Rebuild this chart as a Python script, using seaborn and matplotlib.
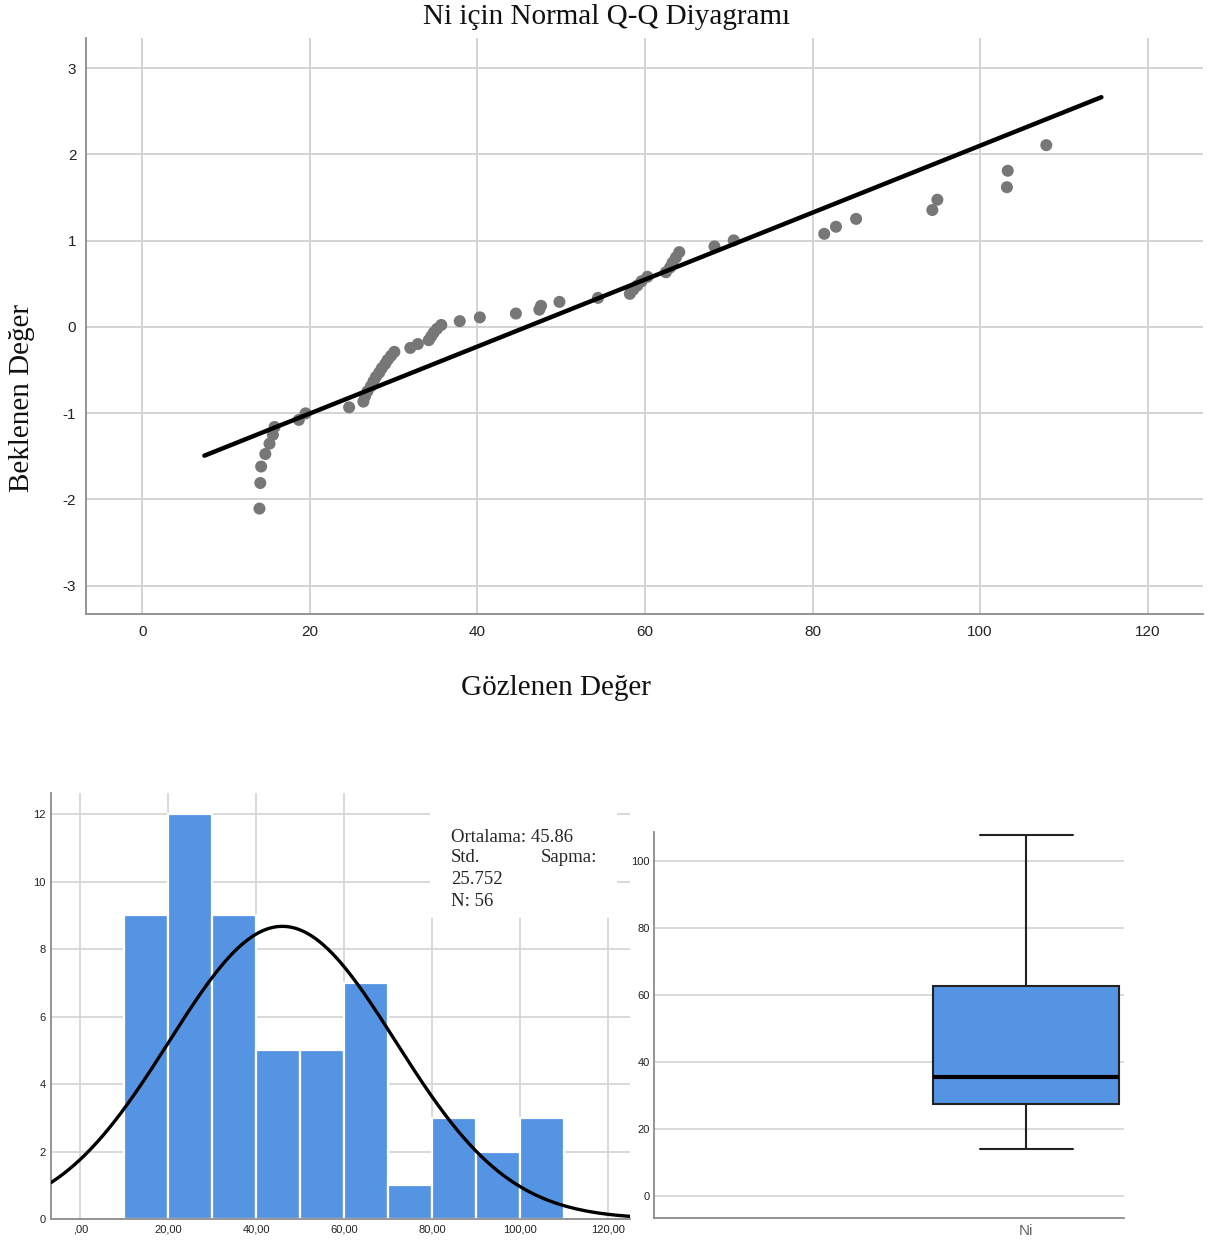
import numpy as np
import pandas as pd
import matplotlib
matplotlib.use("Agg")
import matplotlib.pyplot as plt
import seaborn as sns
from statistics import NormalDist
from matplotlib.patches import Rectangle

# Ni gözlem değerleri (Q-Q diyagramından okunan, sıralı)
ni_values = [14.0, 14.1, 14.2, 14.7, 15.2, 15.6, 15.8, 18.7, 19.5,
             24.7, 26.4, 26.6, 26.9, 27.3, 27.6, 27.9, 28.3, 28.6, 29.0, 29.3, 29.7,
             30.1, 32.0, 32.9, 34.2, 34.5, 34.8, 35.2, 35.7, 37.9,
             40.3, 44.6, 47.4, 47.6, 49.8,
             54.4, 58.2, 58.6, 59.1, 59.6,
             60.3, 62.5, 63.0, 63.3, 63.7, 64.1, 68.3,
             70.6,
             81.4, 82.8, 85.2,
             94.3, 94.9,
             103.2, 103.3, 107.9]

hist_bins = [10, 20, 30, 40, 50, 60, 70, 80, 90, 100, 110]
qq_xticks = [0, 20, 40, 60, 80, 100, 120]
qq_yticks = [-3, -2, -1, 0, 1, 2, 3]
hist_xticks = [0, 20, 40, 60, 80, 100, 120]
hist_xticklabels = [",00", "20,00", "40,00", "60,00", "80,00", "100,00", "120,00"]
hist_yticks = [0, 2, 4, 6, 8, 10, 12]
box_yticks = [0, 20, 40, 60, 80, 100]

mean_txt = "Ortalama: 45.86"
std_txt = "25.752"
n_txt = "N: 56"

BLUE = "#5594e3"
GRID = "#d3d3d3"
SPINE = "#8c8c8c"
SERIF = ["Liberation Serif", "DejaVu Serif"]

sns.set_theme(style="white")
plt.rcParams["font.family"] = ["Liberation Sans", "DejaVu Sans"]
plt.rcParams["axes.unicode_minus"] = False

W, H = 1214, 1245
fig = plt.figure(figsize=(W / 100, H / 100), dpi=100)


def axes_px(l, t, r, b):
    return fig.add_axes([l / W, 1 - b / H, (r - l) / W, (b - t) / H])


def style_axes(ax):
    for side in ["top", "right"]:
        ax.spines[side].set_visible(False)
    for side in ["left", "bottom"]:
        ax.spines[side].set_color(SPINE)
        ax.spines[side].set_linewidth(1.3)
    ax.set_axisbelow(True)


obs = np.sort(np.array(ni_values))
n = len(obs)
mu = obs.mean()
sd = obs.std(ddof=1)

# --- Normal Q-Q ---
ax_qq = axes_px(86, 38, 1203, 614)
expected = [NormalDist().inv_cdf(i / (n + 1)) for i in range(1, n + 1)]
qq_df = pd.DataFrame({"Gözlenen": obs, "Beklenen": expected})
sns.scatterplot(data=qq_df, x="Gözlenen", y="Beklenen", color="#777777", s=75,
                edgecolor="none", ax=ax_qq, zorder=3)
span = obs.max() - obs.min()
line_x = np.array([obs.min() - 0.07 * span, obs.max() + 0.07 * span])
sns.lineplot(x=line_x, y=(line_x - mu) / sd, color="black", linewidth=3.2, ax=ax_qq, zorder=4)
ax_qq.set_xlim(-6.7, 126.6)
ax_qq.set_ylim(-3.33, 3.35)
ax_qq.set_xticks(qq_xticks)
ax_qq.set_yticks(qq_yticks)
ax_qq.grid(True, color=GRID, linewidth=1.4)
ax_qq.tick_params(length=0, labelsize=11, colors="#222222")
ax_qq.tick_params(axis="x", pad=8)
ax_qq.tick_params(axis="y", pad=7)
ax_qq.set_xlabel("")
ax_qq.set_ylabel("")
style_axes(ax_qq)

fig.text(607 / W, 1 - 17 / H, "Ni için Normal Q-Q Diyagramı", ha="center", va="center",
         family=SERIF, fontsize=21, color="#111111")
fig.text(22 / W, 1 - 398 / H, "Beklenen Değer", ha="center", va="center", rotation=90,
         family=SERIF, fontsize=21, color="#111111")
fig.text(556 / W, 1 - 688 / H, "Gözlenen Değer", ha="center", va="center",
         family=SERIF, fontsize=21, color="#111111")

# --- Histogram ---
ax_h = axes_px(51, 793, 630, 1219)
sns.histplot(x=obs, bins=hist_bins, color=BLUE, edgecolor="white", linewidth=1.6,
             alpha=1, ax=ax_h, zorder=2)
xs = np.linspace(-6.7, 124.9, 400)
ys = n * 10 * np.exp(-0.5 * ((xs - mu) / sd) ** 2) / (sd * np.sqrt(2 * np.pi))
sns.lineplot(x=xs, y=ys, color="black", linewidth=2.4, ax=ax_h, zorder=4)
ax_h.set_xlim(-6.7, 124.9)
ax_h.set_ylim(0, 12.63)
ax_h.set_xticks(hist_xticks)
ax_h.set_xticklabels(hist_xticklabels)
ax_h.set_yticks(hist_yticks)
ax_h.grid(True, color=GRID, linewidth=1.2)
ax_h.tick_params(length=0, labelsize=8, colors="#222222")
ax_h.tick_params(axis="x", pad=4)
ax_h.tick_params(axis="y", pad=4)
ax_h.set_xlabel("")
ax_h.set_ylabel("")
style_axes(ax_h)
ax_h.add_patch(Rectangle((0.655, 0.707), 0.323, 0.32, transform=ax_h.transAxes,
                         facecolor="white", edgecolor="none", zorder=2.5, clip_on=False))

fig.text(451 / W, 1 - 837 / H, mean_txt, ha="left", va="center", family=SERIF, fontsize=13.5)
fig.text(451 / W, 1 - 858 / H, "Std.", ha="left", va="center", family=SERIF, fontsize=13.5)
fig.text(597 / W, 1 - 858 / H, "Sapma:", ha="right", va="center", family=SERIF, fontsize=13.5)
fig.text(451 / W, 1 - 880 / H, std_txt, ha="left", va="center", family=SERIF, fontsize=13.5)
fig.text(451 / W, 1 - 901 / H, n_txt, ha="left", va="center", family=SERIF, fontsize=13.5)

# --- Boxplot ---
ax_b = axes_px(654, 832, 1124, 1218)
box_df = pd.DataFrame({"Ni": obs})
sns.boxplot(data=box_df, color=BLUE, width=0.8, linewidth=1.5, linecolor="#222222",
            saturation=1, whis=1.5,
            medianprops={"color": "black", "linewidth": 3},
            ax=ax_b)
ax_b.set_xlim(-1.6, 0.42)
ax_b.set_ylim(-6.5, 108.7)
ax_b.set_yticks(box_yticks)
ax_b.yaxis.grid(True, color=GRID, linewidth=1.2)
ax_b.xaxis.grid(False)
ax_b.tick_params(length=0, labelsize=8, colors="#222222")
ax_b.tick_params(axis="x", labelsize=11, labelcolor="#666666", pad=4)
ax_b.tick_params(axis="y", pad=3)
ax_b.set_xlabel("")
ax_b.set_ylabel("")
style_axes(ax_b)

fig.savefig("out.png", dpi=100)
